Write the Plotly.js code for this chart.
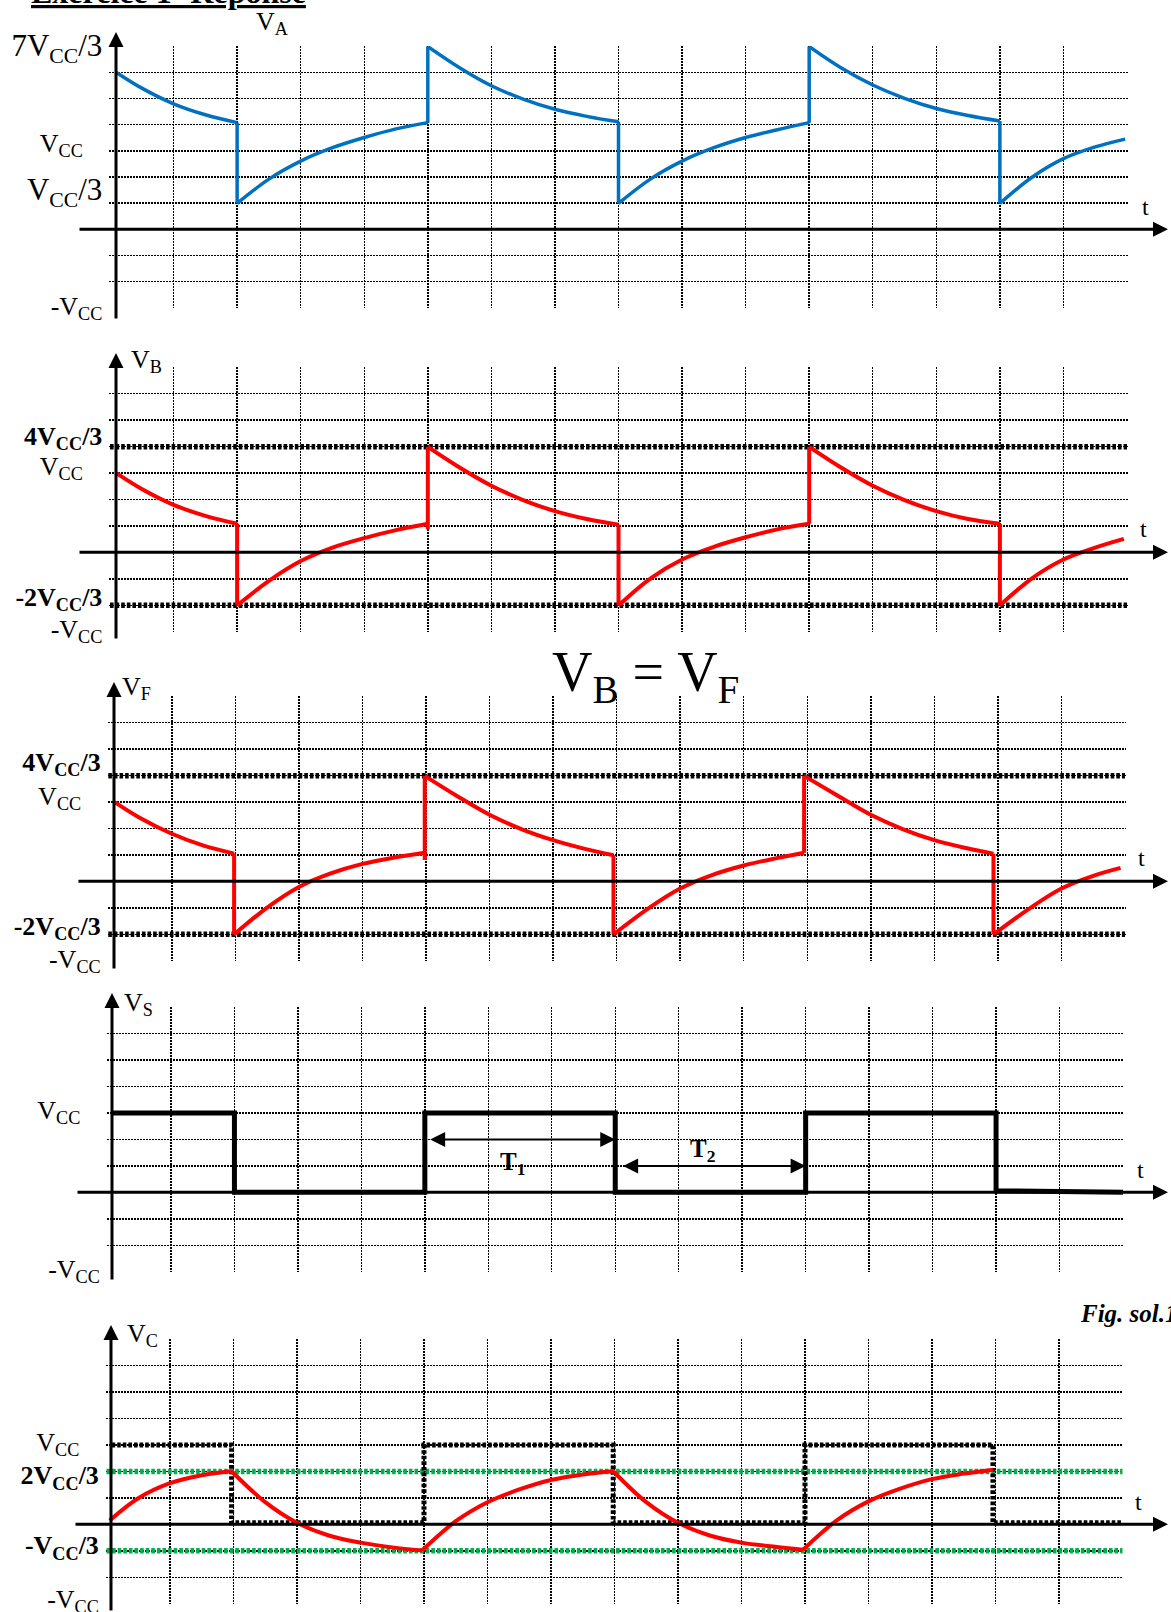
<!DOCTYPE html>
<html>
<head>
<meta charset="utf-8">
<script src="https://cdn.plot.ly/plotly-3.0.1.min.js"></script>
<style>
  html, body { margin: 0; padding: 0; background: #fff; }
  #chart { width: 1171px; height: 1612px; }
</style>
</head>
<body>
<div id="chart"></div>
<script>
// ---------------- DATA (x in grid columns, y in units of Vcc) ----------------
const gridY = [-1, -2/3, -1/3, 0, 1/3, 2/3, 1, 4/3, 5/3, 2, 7/3];
const gridX = [1, 2, 3, 4, 5, 6, 7, 8, 9, 10, 11, 12, 13, 14, 15, 16];

// labelled levels of each panel
const tickValsA = [-1, 1/3, 1, 7/3];
const tickTextA = ['-V<sub>CC</sub>', '<span style="font-size:31px">V<sub>CC</sub>/3</span>', 'V<sub>CC</sub>&nbsp;&nbsp;&nbsp;', '<span style="font-size:31px">7V<sub>CC</sub>/3</span>'];
const tickValsB = [-1, -2/3, 1, 4/3];
const tickTextB = ['-V<sub>CC</sub>', '<b>-2V<sub>CC</sub>/3</b>', 'V<sub>CC</sub>&nbsp;&nbsp;&nbsp;', '<b>4V<sub>CC</sub>/3</b>'];
const tickValsF = [-1, -2/3, 1, 4/3];
const tickTextF = ['-V<sub>CC</sub>', '<b>-2V<sub>CC</sub>/3</b>', 'V<sub>CC</sub>&nbsp;&nbsp;&nbsp;', '<b>4V<sub>CC</sub>/3</b>'];
const tickValsS = [-1, 1];
const tickTextS = ['-V<sub>CC</sub>', 'V<sub>CC</sub>&nbsp;&nbsp;&nbsp;'];
const tickValsC = [-1, -1/3, 2/3, 1];
const tickTextC = ['-V<sub>CC</sub>', '<b>-V<sub>CC</sub>/3</b>', '<b>2V<sub>CC</sub>/3</b>', 'V<sub>CC</sub>&nbsp;&nbsp;&nbsp;'];

// V_A (blue)
const xA = [0.1, 0.5, 1, 1.5, 2,   2, 2.5, 3, 3.5, 4, 4.5, 5,   5, 5.5, 6, 6.5, 7, 7.5, 8,
            8, 8.5, 9, 9.5, 10, 10.5, 11,   11, 11.5, 12, 12.5, 13, 13.5, 14,   14, 14.5, 15, 15.5, 15.97];
const vA = [2.0, 1.80, 1.60, 1.46, 1.36,   0.33, 0.64, 0.87, 1.04, 1.17, 1.28, 1.36,   2.33, 2.06, 1.83, 1.66, 1.53, 1.44, 1.37,
            0.33, 0.64, 0.87, 1.04, 1.17, 1.27, 1.36,   2.33, 2.06, 1.84, 1.67, 1.54, 1.45, 1.38,   0.33, 0.66, 0.90, 1.05, 1.15];

// V_B (red)
const xB = [0.1, 0.5, 1, 1.5, 2,   2, 2.5, 3, 3.5, 4, 4.5, 5,   5, 5, 5.5, 6, 6.5, 7, 7.5, 8,
            8, 8.5, 9, 9.5, 10, 10.5, 11,   11, 11.5, 12, 12.5, 13, 13.5, 14,   14, 14.5, 15, 15.5, 15.95];
const vB = [1.0, 0.80, 0.60, 0.46, 0.36,   -0.67, -0.36, -0.11, 0.06, 0.18, 0.28, 0.36,   0.29, 1.33, 1.07, 0.84, 0.66, 0.52, 0.42, 0.35,
            -0.67, -0.33, -0.09, 0.07, 0.19, 0.29, 0.36,   1.33, 1.07, 0.84, 0.66, 0.52, 0.42, 0.36,   -0.67, -0.33, -0.09, 0.06, 0.17];

// V_F (red)
const xF = [0.1, 0.5, 1, 1.5, 1.98,   1.98, 2.5, 3, 3.5, 4, 4.5, 4.98,   4.98, 4.98, 5.5, 6, 6.5, 7, 7.5, 7.95,
            7.95, 8.5, 9, 9.5, 10, 10.5, 10.95,   10.95, 11.5, 12, 12.5, 13, 13.5, 13.93,   13.93, 14.5, 15, 15.5, 15.93];
const vF = [1.0, 0.80, 0.60, 0.45, 0.35,   -0.67, -0.33, -0.07, 0.10, 0.22, 0.30, 0.36,   0.27, 1.33, 1.07, 0.84, 0.66, 0.52, 0.41, 0.33,
            -0.67, -0.34, -0.09, 0.08, 0.20, 0.29, 0.36,   1.33, 1.07, 0.84, 0.66, 0.52, 0.42, 0.35,   -0.67, -0.34, -0.09, 0.07, 0.17];

// V_S (black square wave)
const xS = [0.08, 2, 2, 5, 5, 8, 8, 11, 11, 14, 14, 16];
const vS = [1, 1, 0, 0, 1, 1, 0, 0, 1, 1, 0.02, 0];

// V_C (red) and dotted copy of V_S
const xC = [0.05, 0.5, 1, 1.5, 1.97,   1.97, 2.5, 3, 3.5, 4, 4.5, 4.97,   4.97, 5.5, 6, 6.5, 7, 7.5, 7.98,
            7.98, 8.5, 9, 9.5, 10, 10.5, 10.97,   10.97, 11.5, 12, 12.5, 13, 13.5, 13.96];
const vC = [0.05, 0.33, 0.52, 0.62, 0.67,   0.67, 0.28, 0.02, -0.14, -0.23, -0.29, -0.33,   -0.33, 0.04, 0.28, 0.44, 0.56, 0.63, 0.67,
            0.67, 0.28, 0.02, -0.14, -0.23, -0.28, -0.32,   -0.32, 0.05, 0.29, 0.45, 0.57, 0.64, 0.69];
const xQ = [0.08, 1.97, 1.97, 5, 5, 7.98, 7.98, 11, 11, 13.96, 13.96, 16];
const vQ = [1, 1, 0.02, 0.02, 1, 1, 0.02, 0.02, 1, 1, 0.02, 0.02];

// threshold levels
const levelsBF = [4/3, -2/3];
const levelsC = [2/3, -1/3];
const spanX = [0, 16];

// T1 / T2 markers on V_S
const T1 = {from: 5.06, to: 8.0, level: 2/3, labelX: 6.38, labelY: 0.36};
const T2 = {from: 8.1, to: 11.0, level: 1/3, labelX: 9.38, labelY: 0.53};

// ---------------- LAYOUT HELPERS ----------------
const W = 1171, H = 1612;
const px = p => p / W;
const py = p => 1 - p / H;

// pixel frames of the panels; labelPx = where each tick label sits (same order as tickVals)
const panels = [
  {x0: 110,   x1: 1127,   top: 47,   bot: 307,  axisX: 116, arrowTop: 32,   axisBot: 320,  tLeft: 78, labelPx: [307, 193, 145, 50]},
  {x0: 110,   x1: 1127,   top: 368,  bot: 631,  axisX: 116, arrowTop: 353,  axisBot: 640,  tLeft: 78, labelPx: [630, 598, 468, 438]},
  {x0: 108.3, x1: 1125,   top: 697,  bot: 960,  axisX: 114, arrowTop: 682,  axisBot: 970,  tLeft: 77, labelPx: [960, 927, 798, 764]},
  {x0: 107.5, x1: 1123,   top: 1008, bot: 1271, axisX: 112, arrowTop: 993,  axisBot: 1281, tLeft: 76, labelPx: [1270, 1112]},
  {x0: 106.5, x1: 1122.5, top: 1340, bot: 1603, axisX: 111, arrowTop: 1325, axisBot: 1612, tLeft: 74, labelPx: [1600, 1547, 1477, 1444]}
];
const ticks = [[tickValsA, tickTextA], [tickValsB, tickTextB], [tickValsF, tickTextF], [tickValsS, tickTextS], [tickValsC, tickTextC]];

const GRID = {color: '#000', width: 1.4, dash: '2px,1px'};
const layout = {
  width: W, height: H,
  margin: {l: 0, r: 0, t: 0, b: 0},
  paper_bgcolor: '#fff', plot_bgcolor: '#fff',
  showlegend: false,
  font: {family: 'Liberation Serif, Times New Roman, serif', color: '#000'},
  annotations: [],
  hovermode: false
};

panels.forEach((p, i) => {
  const n = i + 1;
  const unit = (p.x1 - p.x0) / 16;
  const yLo = -1 - 0.004, yHi = 7/3 + 0.004;
  const pxToVal = c => {
    const v = 7/3 - (c - 2 - p.top) / (p.bot - p.top) * (10/3);
    return Math.min(yHi - 0.001, Math.max(yLo + 0.001, v));
  };
  layout['xaxis' + n] = {
    domain: [px(p.x0 - unit * 0.01), px(p.x1 + unit * 0.01)],
    range: [-0.01, 16.01],
    anchor: 'y' + n,
    tickmode: 'array', tickvals: gridX, showticklabels: false, ticks: '',
    showgrid: true, gridcolor: GRID.color, gridwidth: GRID.width, griddash: GRID.dash,
    zeroline: false, showline: false, fixedrange: true
  };
  layout['yaxis' + n] = {
    domain: [py(p.bot + 1), py(p.top - 1)],
    range: [yLo, yHi],
    anchor: 'x' + n,
    // labels sit at their reference positions; the grid is drawn by the minor ticks
    tickmode: 'array', tickvals: ticks[i][0].map((v, k) => pxToVal(p.labelPx[k])), ticktext: ticks[i][1],
    tickfont: {family: 'Liberation Serif, Times New Roman, serif', size: 26, color: '#000'},
    ticks: '', ticklabelstandoff: 6, ticklabeloverflow: 'allow',
    showgrid: false,
    minor: {tickmode: 'array', tickvals: gridY, ticks: '', showgrid: true,
            gridcolor: GRID.color, gridwidth: GRID.width, griddash: GRID.dash},
    zeroline: false, showline: false, fixedrange: true
  };
  layout.annotations.push({
    xref: 'x' + n, x: (p.axisX - p.x0) / unit,
    yref: 'paper', y: py(p.arrowTop),
    ax: 0, ay: p.axisBot - p.arrowTop, axref: 'pixel', ayref: 'pixel',
    text: '', showarrow: true, arrowhead: 2, arrowsize: 1, arrowwidth: 3, arrowcolor: '#000', standoff: 0
  });
  layout.annotations.push({
    xref: 'paper', x: px(1168),
    yref: 'y' + n, y: 0,
    ax: -(1168 - p.tLeft), ay: 0,
    text: '', showarrow: true, arrowhead: 2, arrowsize: 1, arrowwidth: 3, arrowcolor: '#000', standoff: 0
  });
});

const tPos = [[1145, 207], [1143, 529], [1141, 858], [1140, 1170], [1138, 1502]];
tPos.forEach(t => layout.annotations.push({
  xref: 'paper', yref: 'paper', x: px(t[0]), y: py(t[1]), text: 't', showarrow: false,
  font: {size: 24}, xanchor: 'center', yanchor: 'middle'
}));
const names = [['V<sub>A</sub>', 255, 23], ['V<sub>B</sub>', 130, 361], ['V<sub>F</sub>', 121, 688], ['V<sub>S</sub>', 123, 1004], ['V<sub>C</sub>', 126, 1335]];
names.forEach(nm => layout.annotations.push({
  xref: 'paper', yref: 'paper', x: px(nm[1]), y: py(nm[2]), text: nm[0], showarrow: false,
  font: {size: 26}, xanchor: 'left', yanchor: 'middle', borderpad: 0
}));
layout.annotations.push({
  xref: 'paper', yref: 'paper', x: px(30), y: py(11), text: '<b><u>Exercice 1- Réponse</u></b>', showarrow: false,
  font: {size: 32}, xanchor: 'left', yanchor: 'bottom', borderpad: 0
});
layout.annotations.push({
  xref: 'paper', yref: 'paper', x: px(645), y: py(676), text: 'V<sub>B</sub> = V<sub>F</sub>', showarrow: false,
  font: {size: 56}, xanchor: 'center', yanchor: 'middle'
});
layout.annotations.push({
  xref: 'paper', yref: 'paper', x: px(1078), y: py(1313), text: '<b><i>Fig. sol.1</i></b>', showarrow: false,
  font: {size: 25}, xanchor: 'left', yanchor: 'middle'
});
[[T1, 'T<sub>1</sub>'], [T2, 'T<sub>2</sub>']].forEach(([T, label]) => {
  layout.annotations.push({
    xref: 'x4', yref: 'y4', x: T.to, y: T.level, axref: 'x4', ayref: 'y4', ax: T.from, ay: T.level,
    text: '', showarrow: true, arrowside: 'end+start', arrowhead: 2, startarrowhead: 2,
    arrowsize: 1.5, startarrowsize: 1.5, arrowwidth: 2, arrowcolor: '#000', standoff: 0, startstandoff: 0
  });
  layout.annotations.push({
    xref: 'x4', yref: 'y4', x: T.labelX, y: T.labelY, text: '<b>' + label + '</b>', showarrow: false,
    font: {size: 25}, xanchor: 'center', yanchor: 'middle'
  });
});

// ---------------- TRACES ----------------
const traces = [];
function splitSegments(xs, ys) {
  const out = [];
  let cur = [[xs[0], ys[0]]];
  for (let i = 1; i < xs.length; i++) {
    if (xs[i] === xs[i - 1]) {
      if (cur.length > 1) out.push({type: 'curve', pts: cur});
      const v = [[xs[i - 1], ys[i - 1]]];
      while (i < xs.length && xs[i] === xs[i - 1]) { v.push([xs[i], ys[i]]); i++; }
      out.push({type: 'jump', pts: v});
      i--;
      cur = [[xs[i], ys[i]]];
    } else {
      cur.push([xs[i], ys[i]]);
    }
  }
  if (cur.length > 1) out.push({type: 'curve', pts: cur});
  return out;
}
function addSignal(xs, ys, n, color, width) {
  splitSegments(xs, ys).forEach(s => {
    traces.push({
      type: 'scatter', mode: 'lines', xaxis: 'x' + n, yaxis: 'y' + n,
      x: s.pts.map(q => q[0]), y: s.pts.map(q => q[1]),
      line: {color: color, width: width, shape: s.type === 'curve' ? 'spline' : 'linear', smoothing: 1},
      hoverinfo: 'skip', showlegend: false
    });
  });
}
function addLevel(level, n, color) {
  traces.push({
    type: 'scatter', mode: 'lines', xaxis: 'x' + n, yaxis: 'y' + n,
    x: spanX, y: [level, level],
    line: {color: color, width: 5.5, dash: '3.6px,2px'},
    hoverinfo: 'skip', showlegend: false
  });
}

addSignal(xA, vA, 1, '#0070C0', 3.5);
levelsBF.forEach(l => addLevel(l, 2, '#000'));
addSignal(xB, vB, 2, '#FF0000', 4);
levelsBF.forEach(l => addLevel(l, 3, '#000'));
addSignal(xF, vF, 3, '#FF0000', 4);
traces.push({
  type: 'scatter', mode: 'lines', xaxis: 'x4', yaxis: 'y4', x: xS, y: vS,
  line: {color: '#000', width: 5}, hoverinfo: 'skip', showlegend: false
});
levelsC.forEach(l => addLevel(l, 5, '#00B050'));
traces.push({
  type: 'scatter', mode: 'lines', xaxis: 'x5', yaxis: 'y5', x: xQ, y: vQ,
  line: {color: '#000', width: 5, dash: '3.6px,2px'}, hoverinfo: 'skip', showlegend: false
});
addSignal(xC, vC, 5, '#FF0000', 4);

Plotly.newPlot('chart', traces, layout, {staticPlot: true, displayModeBar: false});
</script>
</body>
</html>
